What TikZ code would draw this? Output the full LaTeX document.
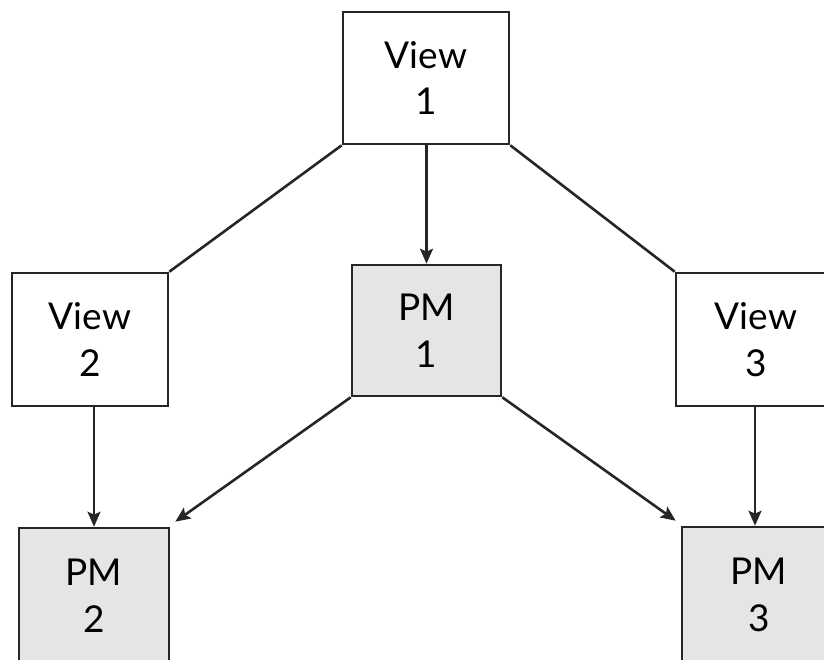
\documentclass[tikz,border=0pt]{standalone}
\usepackage{fontspec}
\setmainfont{Lato}
\usetikzlibrary{arrows.meta,calc}
\definecolor{pmgrey}{HTML}{E5E5E5}
\begin{document}
\begin{tikzpicture}[x=1pt,y=-1pt,
  box/.style={draw=black!85,line width=2.6pt,align=center,inner sep=0pt,
    font=\fontsize{37}{47}\selectfont},
  viewbox/.style={box,fill=white},
  pmbox/.style={box,fill=pmgrey},
  link/.style={line width=2.6pt,draw=black!85},
  arrowlink/.style={link,-{Stealth[length=15pt,width=13pt,inset=3pt]}}]
\useasboundingbox (0,0) rectangle (824,659);
\clip (0,0) rectangle (824,659);
% views
\node[viewbox,minimum width=166pt,minimum height=132pt] (v1) at (426,78) {View\\1};
\node[viewbox,minimum width=156pt,minimum height=133pt] (v2) at (90,339.5) {View\\2};
\node[viewbox,minimum width=160pt,minimum height=133pt] (v3) at (756,339.5) {View\\3};
% presentation models (the lower ones run past the lower edge)
\node[pmbox,minimum width=149pt,minimum height=131pt] (pm1) at (426.5,330.5) {PM\\1};
\node[pmbox,minimum width=150pt,minimum height=136pt] (pm2) at (94,596) {PM\\2};
\node[pmbox,minimum width=154pt,minimum height=136pt] (pm3) at (759,595) {PM\\3};
% free ends of the diagonal arrows, just off the box corners
\coordinate (pm2tip) at ($(pm2.north east)+(5,-5)$);
\coordinate (pm3tip) at ($(pm3.north west)+(-5,-5)$);
% connections
\draw[link] (v1.south west) -- (v2.north east);
\draw[link] (v1.south east) -- (v3.north west);
\draw[arrowlink] (v1.south -| pm1.north) -- (pm1.north);
\draw[arrowlink] (v2.south -| pm2.north) -- (pm2.north);
\draw[arrowlink] (v3.south -| 755,0) -- (pm3.north -| 755,0);
\draw[arrowlink] (pm1.south west) -- (pm2tip);
\draw[arrowlink] (pm1.south east) -- (pm3tip);
\end{tikzpicture}
\end{document}
